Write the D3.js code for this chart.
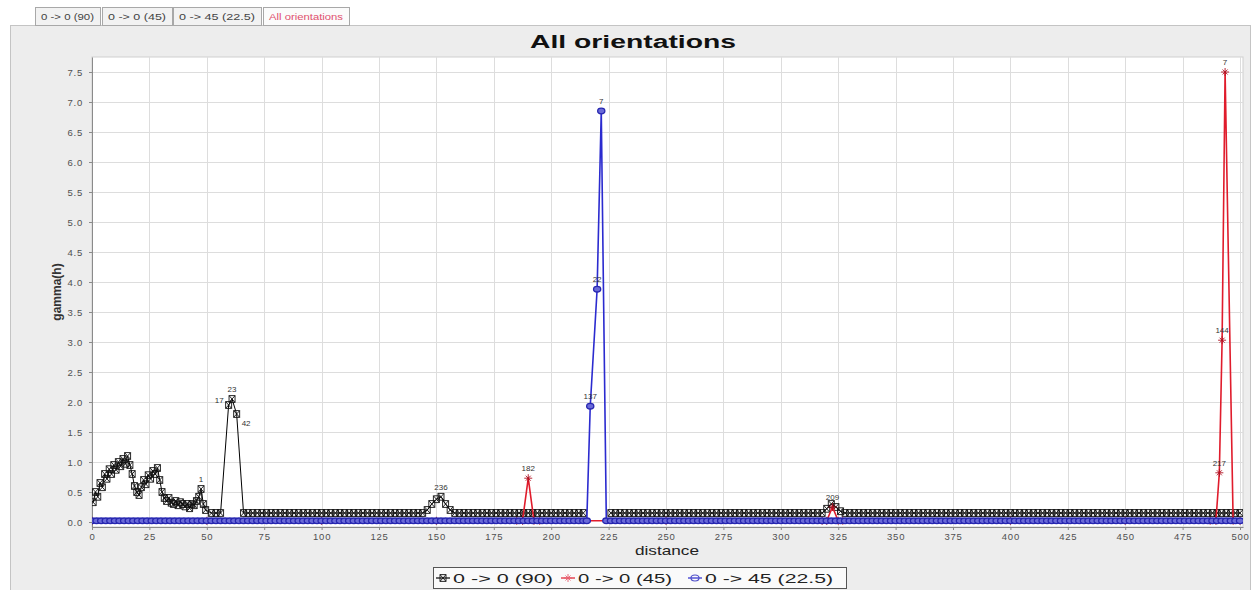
<!DOCTYPE html>
<html><head><meta charset="utf-8">
<script src="https://cdn.jsdelivr.net/npm/d3@7"></script>
<style>
html,body{margin:0;padding:0;background:#fff;}
svg{display:block;font-family:"Liberation Sans",Arial,sans-serif;}
</style>
</head><body>
<svg id="c" width="1254" height="590"></svg>
<script>
// ---------------- data ----------------
const tabs = ["0 -> 0 (90)", "0 -> 0 (45)", "0 -> 45 (22.5)", "All orientations"];
const title = "All orientations";
const xLabel = "distance";
const yLabel = "gamma(h)";
const seriesNames = ["0 -> 0 (90)", "0 -> 0 (45)", "0 -> 45 (22.5)"];
const xTicks = [0,25,50,75,100,125,150,175,200,225,250,275,300,325,350,375,400,425,450,475,500];
const yTicks = [0,0.5,1,1.5,2,2.5,3,3.5,4,4.5,5,5.5,6,6.5,7,7.5];

// series 1 : 0 -> 0 (90)  (black)
const blackDist = [
 0.5,1.5,2.5,3.5,4.5,5.5,6.5,7.5,8.5,9.5,
 10.5,11.5,12.5,13.5,14.5,15.5,16.5,17.5,18.5,19.5,
 20.5,21.5,22.5,23.5,24.5,25.5,26.5,27.5,28.5,29.5,
 30.5,31.5,32.5,33.5,34.5,35.5,36.5,37.5,38.5,39.5,
 40.5,41.5,42.5,43.5,44.5,45.5,46.5,47.5,48.5,49.5,
 52,54,56,59.5,61,63,66,
 68,70,72,74,76,78,80,82,84,86,88,90,92,94,96,98,100,102,104,106,
 108,110,112,114,116,118,120,122,124,126,128,130,132,134,136,138,140,142,144,
 146,148,150,152,154,156,
 158,160,162,164,166,168,170,172,174,176,178,180,182,184,186,188,190,192,194,196,
 198,200,202,204,206,208,210,212,214,
 216,218,220,222,224,
 226,228,230,232,234,236,238,240,242,244,246,248,250,252,254,256,258,260,262,264,
 266,268,270,272,274,276,278,280,282,284,286,288,290,292,294,296,298,300,302,304,
 306,308,310,312,314,316,318,
 320,322,324,326,
 328,330,332,334,336,338,340,342,344,346,348,350,352,354,356,358,360,362,364,366,
 368,370,372,374,376,378,380,382,384,386,388,390,392,394,396,398,400,402,404,406,
 408,410,412,414,416,418,420,422,424,426,428,430,432,434,436,438,440,442,444,446,
 448,450,452,454,456,458,460,462,464,466,468,470,472,474,476,478,480,482,484,486,
 488,490,492,494,496,498,500
];
const blackGamma = [
 0.33,0.5,0.42,0.65,0.58,0.8,0.72,0.88,0.8,0.95,
 0.87,1.0,0.93,1.05,0.97,1.1,0.95,0.8,0.6,0.5,
 0.45,0.58,0.7,0.63,0.78,0.72,0.85,0.8,0.9,0.7,
 0.5,0.4,0.35,0.4,0.32,0.3,0.35,0.28,0.33,0.3,
 0.26,0.3,0.23,0.3,0.28,0.35,0.42,0.55,0.3,0.2,
 0.15,0.15,0.15,1.95,2.05,1.8,0.15,
 0.15,0.15,0.15,0.15,0.15,0.15,0.15,0.15,0.15,0.15,0.15,0.15,0.15,0.15,0.15,0.15,0.15,0.15,0.15,0.15,
 0.15,0.15,0.15,0.15,0.15,0.15,0.15,0.15,0.15,0.15,0.15,0.15,0.15,0.15,0.15,0.15,0.15,0.15,0.15,
 0.2,0.3,0.38,0.42,0.3,0.2,
 0.15,0.15,0.15,0.15,0.15,0.15,0.15,0.15,0.15,0.15,0.15,0.15,0.15,0.15,0.15,0.15,0.15,0.15,0.15,0.15,
 0.15,0.15,0.15,0.15,0.15,0.15,0.15,0.15,0.15,
 null,null,null,null,null,
 0.15,0.15,0.15,0.15,0.15,0.15,0.15,0.15,0.15,0.15,0.15,0.15,0.15,0.15,0.15,0.15,0.15,0.15,0.15,0.15,
 0.15,0.15,0.15,0.15,0.15,0.15,0.15,0.15,0.15,0.15,0.15,0.15,0.15,0.15,0.15,0.15,0.15,0.15,0.15,0.15,
 0.15,0.15,0.15,0.15,0.15,0.15,0.15,
 0.22,0.3,0.25,0.18,
 0.15,0.15,0.15,0.15,0.15,0.15,0.15,0.15,0.15,0.15,0.15,0.15,0.15,0.15,0.15,0.15,0.15,0.15,0.15,0.15,
 0.15,0.15,0.15,0.15,0.15,0.15,0.15,0.15,0.15,0.15,0.15,0.15,0.15,0.15,0.15,0.15,0.15,0.15,0.15,0.15,
 0.15,0.15,0.15,0.15,0.15,0.15,0.15,0.15,0.15,0.15,0.15,0.15,0.15,0.15,0.15,0.15,0.15,0.15,0.15,0.15,
 0.15,0.15,0.15,0.15,0.15,0.15,0.15,0.15,0.15,0.15,0.15,0.15,0.15,0.15,0.15,0.15,0.15,0.15,0.15,0.15,
 0.15,0.15,0.15,0.15,0.15,0.15,0.15
];

// series 2 : 0 -> 0 (45)  (red)
const redDist  = [0,50,100,150,185,187.5,190,192.5,195,250,318,320,322.5,325,327,400,450,487,489.5,491,492.2,493.5,497,500];
const redGamma = [0.02,0.02,0.02,0.02,0.02,0.02,0.73,0.02,0.02,0.02,0.02,0.02,0.25,0.02,0.02,0.02,0.02,0.02,0.02,0.82,3.03,7.5,0.02,0.02];

// series 3 : 0 -> 45 (22.5)  (blue)
const blueDist = [
 0,2,4,6,8,10,12,14,16,18,20,22,24,26,28,30,32,34,36,38,
 40,42,44,46,48,50,52,54,56,58,60,62,64,66,68,70,72,74,76,78,
 80,82,84,86,88,90,92,94,96,98,100,102,104,106,108,110,112,114,116,118,
 120,122,124,126,128,130,132,134,136,138,140,142,144,146,148,150,152,154,156,158,
 160,162,164,166,168,170,172,174,176,178,180,182,184,186,188,190,192,194,196,198,
 200,202,204,206,208,210,212,214,
 215.5,217,220,221.8,224,
 226,228,230,232,234,236,238,240,242,244,246,248,250,252,254,256,258,260,262,264,
 266,268,270,272,274,276,278,280,282,284,286,288,290,292,294,296,298,300,302,304,
 306,308,310,312,314,316,318,320,322,324,326,328,330,332,334,336,338,340,342,344,
 346,348,350,352,354,356,358,360,362,364,366,368,370,372,374,376,378,380,382,384,
 386,388,390,392,394,396,398,400,402,404,406,408,410,412,414,416,418,420,422,424,
 426,428,430,432,434,436,438,440,442,444,446,448,450,452,454,456,458,460,462,464,
 466,468,470,472,474,476,478,480,482,484,486,488,490,492,494,496,498,500
];
const blueGamma = [
 0.02,0.02,0.02,0.02,0.02,0.02,0.02,0.02,0.02,0.02,0.02,0.02,0.02,0.02,0.02,0.02,0.02,0.02,0.02,0.02,
 0.02,0.02,0.02,0.02,0.02,0.02,0.02,0.02,0.02,0.02,0.02,0.02,0.02,0.02,0.02,0.02,0.02,0.02,0.02,0.02,
 0.02,0.02,0.02,0.02,0.02,0.02,0.02,0.02,0.02,0.02,0.02,0.02,0.02,0.02,0.02,0.02,0.02,0.02,0.02,0.02,
 0.02,0.02,0.02,0.02,0.02,0.02,0.02,0.02,0.02,0.02,0.02,0.02,0.02,0.02,0.02,0.02,0.02,0.02,0.02,0.02,
 0.02,0.02,0.02,0.02,0.02,0.02,0.02,0.02,0.02,0.02,0.02,0.02,0.02,0.02,0.02,0.02,0.02,0.02,0.02,0.02,
 0.02,0.02,0.02,0.02,0.02,0.02,0.02,0.02,
 0.02,1.93,3.88,6.85,0.02,
 0.02,0.02,0.02,0.02,0.02,0.02,0.02,0.02,0.02,0.02,0.02,0.02,0.02,0.02,0.02,0.02,0.02,0.02,0.02,0.02,
 0.02,0.02,0.02,0.02,0.02,0.02,0.02,0.02,0.02,0.02,0.02,0.02,0.02,0.02,0.02,0.02,0.02,0.02,0.02,0.02,
 0.02,0.02,0.02,0.02,0.02,0.02,0.02,0.02,0.02,0.02,0.02,0.02,0.02,0.02,0.02,0.02,0.02,0.02,0.02,0.02,
 0.02,0.02,0.02,0.02,0.02,0.02,0.02,0.02,0.02,0.02,0.02,0.02,0.02,0.02,0.02,0.02,0.02,0.02,0.02,0.02,
 0.02,0.02,0.02,0.02,0.02,0.02,0.02,0.02,0.02,0.02,0.02,0.02,0.02,0.02,0.02,0.02,0.02,0.02,0.02,0.02,
 0.02,0.02,0.02,0.02,0.02,0.02,0.02,0.02,0.02,0.02,0.02,0.02,0.02,0.02,0.02,0.02,0.02,0.02,0.02,0.02,
 0.02,0.02,0.02,0.02,0.02,0.02,0.02,0.02,0.02,0.02,0.02,0.02,0.02,0.02,0.02,0.02,0.02,0.02
];

// item labels (data coordinates + text)
const labelDist  = [221.8, 220, 217, 493.5, 492.2, 491, 190, 322.5, 59.5, 61, 63, 152, 47.5];
const labelGamma = [6.85, 3.88, 1.93, 7.5, 3.03, 0.82, 0.73, 0.25, 1.95, 2.05, 1.8, 0.42, 0.55];
const labelText  = ["7", "22", "137", "7", "144", "217", "182", "209", "17", "23", "42", "236", "1"];

// ---------------- drawing ----------------
const W = 1254, H = 590;
const svg = d3.select("#c");
const zip = (a, b) => a.map((d, i) => [d, b[i]]).filter((d, i) => i < b.length);

svg.append("rect").attr("width", W).attr("height", H).attr("fill", "#ffffff");
// panel
svg.append("rect").attr("x", 10.5).attr("y", 25.5).attr("width", 1240).attr("height", 580)
  .attr("fill", "#ededed").attr("stroke", "#c4c4c4");

// tabs
const tabG = svg.append("g");
const tabPos = [[35, 65], [102, 70], [173, 88], [263, 86]];
tabs.forEach((t, i) => {
  const [tx, tw] = tabPos[i];
  const sel = i === tabs.length - 1;
  tabG.append("rect").attr("x", tx + 0.5).attr("y", 7.5).attr("width", tw).attr("height", 18)
    .attr("fill", sel ? "#fbfbfb" : "#f2f2f2").attr("stroke", "#a8a8a8");
  tabG.append("text").attr("x", tx + tw / 2).attr("y", 20).attr("text-anchor", "middle")
    .attr("font-size", 9).attr("fill", sel ? "#e0506e" : "#444")
    .attr("textLength", tw - 12).attr("lengthAdjust", "spacingAndGlyphs").text(t);
});

// title
svg.append("text").attr("x", 633).attr("y", 48).attr("text-anchor", "middle")
  .attr("font-size", 18).attr("font-weight", "bold").attr("fill", "#111")
  .attr("textLength", 206).attr("lengthAdjust", "spacingAndGlyphs").text(title);

// scales
const pL = 92, pR = 1243, pT = 57, pB = 527;
const x = d3.scaleLinear().domain([0, 501.3]).range([pL, pR]);
const y = d3.scaleLinear().domain([-0.0833, 7.75]).range([pB, pT]);

// plot background
svg.append("rect").attr("x", pL).attr("y", pT).attr("width", pR - pL).attr("height", pB - pT)
  .attr("fill", "#ffffff").attr("stroke", "#cfcfcf");

// grid
const grid = svg.append("g");
grid.selectAll("line.vx").data(xTicks.filter(d => d > 0)).join("line")
  .attr("x1", d => Math.round(x(d)) + 0.5).attr("x2", d => Math.round(x(d)) + 0.5)
  .attr("y1", pT).attr("y2", pB).attr("stroke", "#dddddd");
grid.selectAll("line.hy").data(yTicks.filter(d => d > 0)).join("line")
  .attr("y1", d => Math.round(y(d)) + 0.5).attr("y2", d => Math.round(y(d)) + 0.5)
  .attr("x1", pL).attr("x2", pR).attr("stroke", "#dddddd");

// axes
const xAxis = svg.append("g").attr("transform", `translate(0,${pB})`)
  .call(d3.axisBottom(x).tickValues(xTicks).tickFormat(d3.format("d")).tickSize(3).tickSizeOuter(0).tickPadding(3));
const yAxis = svg.append("g").attr("transform", `translate(${pL},0)`)
  .call(d3.axisLeft(y).tickValues(yTicks).tickFormat(d3.format(".1f")).tickSize(3).tickSizeOuter(0).tickPadding(6));
[xAxis, yAxis].forEach(g => {
  g.selectAll("path.domain").attr("stroke", "#8a8a8a");
  g.selectAll(".tick line").attr("stroke", "#8a8a8a");
  g.selectAll(".tick text").attr("fill", "#505050").attr("font-size", 9.5)
    .attr("font-family", "Liberation Sans, Arial, sans-serif").style("letter-spacing", "0.8px");
});

// axis labels
svg.append("text").attr("x", 667).attr("y", 555).attr("text-anchor", "middle")
  .attr("font-size", 13).attr("fill", "#222").attr("textLength", 64).attr("lengthAdjust", "spacingAndGlyphs").text(xLabel);
svg.append("text").attr("transform", "translate(61,292) rotate(-90)").attr("text-anchor", "middle")
  .attr("font-size", 12).attr("font-weight", "bold").attr("fill", "#333").text(yLabel);

// clip
svg.append("clipPath").attr("id", "clip").append("rect")
  .attr("x", pL).attr("y", pT - 10).attr("width", pR - pL).attr("height", pB - pT + 10);
const plot = svg.append("g").attr("clip-path", "url(#clip)");

const shapes = [
  "M-3,-3.4h6v6.8h-6z M-3,-3.4L3,3.4 M3,-3.4L-3,3.4",
  "M-4,0h8 M0,-4v8 M-2.5,-2.5L2.5,2.5 M2.5,-2.5L-2.5,2.5",
  null
];
const colors = ["#000000", "#e01c2c", "#2b2bcf"];
const markStroke = ["#111111", "#b01020", "#2626b0"];
const widths = [1, 1.6, 1.6];
const series = [zip(blackDist, blackGamma), zip(redDist, redGamma), zip(blueDist, blueGamma)];

const line = d3.line().defined(d => d[1] != null).x(d => x(d[0])).y(d => y(d[1]));

series.forEach((s, i) => {
  const g = plot.append("g");
  g.append("path").datum(s).attr("d", line).attr("fill", "none")
    .attr("stroke", colors[i]).attr("stroke-width", widths[i]).attr("stroke-linejoin", "round");
  const pts = s.filter(d => d[1] != null);
  if (shapes[i]) {
    g.selectAll("path.m").data(pts).join("path").attr("class", "m")
      .attr("transform", d => `translate(${x(d[0])},${y(d[1])})`)
      .attr("d", shapes[i]).attr("fill", "none").attr("stroke", markStroke[i]).attr("stroke-width", 0.9);
  } else {
    g.selectAll("ellipse").data(pts).join("ellipse")
      .attr("cx", d => x(d[0])).attr("cy", d => y(d[1])).attr("rx", 3.6).attr("ry", 2.8)
      .attr("fill", "#6a6ad8").attr("stroke", markStroke[i]).attr("stroke-width", 1.3);
  }
});

// item labels (crowded ones near the black peak are offset sideways)
const sideOf = (i) => (i === 8 ? -1 : i === 10 ? 1 : 0);
plot.append("g").selectAll("text").data(labelText).join("text")
  .attr("x", (d, i) => x(labelDist[i]) + sideOf(i) * 5)
  .attr("y", (d, i) => y(labelGamma[i]) + (sideOf(i) === 0 ? -7 : sideOf(i) < 0 ? -2 : 12))
  .attr("text-anchor", (d, i) => sideOf(i) < 0 ? "end" : sideOf(i) > 0 ? "start" : "middle")
  .attr("font-size", 8).attr("fill", "#333").text(d => d);

// legend
const lg = svg.append("g");
lg.append("rect").attr("x", 433.5).attr("y", 567.5).attr("width", 413).attr("height", 21)
  .attr("fill", "#fafafa").attr("stroke", "#555");
const legX = [443, 568, 695];
const legTextLen = [100, 94, 128];
seriesNames.forEach((nm, i) => {
  const cx = legX[i], cy = 578;
  lg.append("line").attr("x1", cx - 7).attr("x2", cx + 7).attr("y1", cy).attr("y2", cy)
    .attr("stroke", colors[i]).attr("stroke-width", 1.2);
  if (shapes[i]) {
    lg.append("path").attr("transform", `translate(${cx},${cy})`).attr("d", shapes[i])
      .attr("fill", "none").attr("stroke", i === 1 ? "#e86070" : markStroke[i]).attr("stroke-width", 0.9);
  } else {
    lg.append("ellipse").attr("cx", cx).attr("cy", cy).attr("rx", 4).attr("ry", 3)
      .attr("fill", "none").attr("stroke", "#5050c8").attr("stroke-width", 1.2);
  }
  lg.append("text").attr("x", cx + 10).attr("y", cy + 4.5).attr("font-size", 13).attr("fill", "#222")
    .attr("textLength", legTextLen[i]).attr("lengthAdjust", "spacingAndGlyphs").text(nm);
});
</script>
</body></html>
